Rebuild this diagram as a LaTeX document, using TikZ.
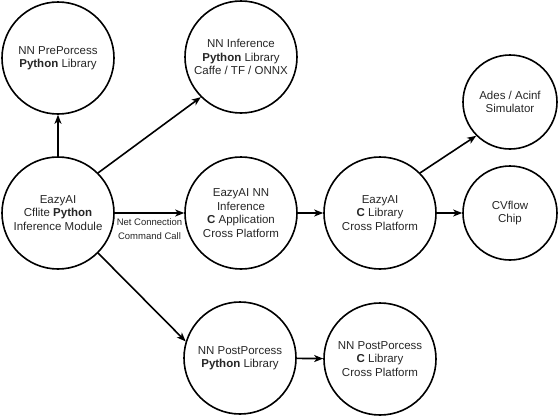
\documentclass[tikz,border=0pt]{standalone}
\usepackage{fontspec}
\setmainfont{Liberation Sans}
\usetikzlibrary{arrows.meta}

\begin{document}
\begin{tikzpicture}[x=1pt, y=-1pt, line width=1.6pt,
    >={Stealth[length=9pt, width=7pt, inset=2.5pt]},
    big/.style={circle, draw, inner sep=0pt, minimum size=112pt, align=center,
      font=\fontsize{11.5}{13.5}\selectfont, text=black!85},
    small/.style={big, minimum size=94pt},
    lbl/.style={font=\fontsize{9.5}{14}\selectfont, align=center, text=black!85}]
  \useasboundingbox (0, 0) rectangle (560, 418);
  \node [big] (pre) at (58, 58) {NN PrePorcess\\\textbf{Python} Library};
  \node [big] (infpy) at (241, 57) {NN Inference\\\textbf{Python} Library\\Caffe / TF / ONNX};
  \node [big] (cflite) at (58, 213) {EazyAI\\Cflite \textbf{Python}\\Inference Module};
  \node [big] (infc) at (241, 213) {EazyAI NN\\Inference\\\textbf{C} Application\\Cross Platform};
  \node [big] (clib) at (380, 213) {EazyAI\\\textbf{C} Library\\Cross Platform};
  \node [small] (ades) at (510, 102) {Ades / Acinf\\Simulator};
  \node [small] (cvflow) at (510, 213) {CVflow\\Chip};
  \node [big] (postpy) at (240, 358) {NN PostPorcess\\\textbf{Python} Library};
  \node [big] (postc) at (380, 359) {NN PostPorcess\\\textbf{C} Library\\Cross Platform};
  \draw [->] (cflite) -- (pre);
  \draw [->] (cflite.45) -- (infpy.225);
  \draw [->] (cflite) -- node [lbl, below=1pt] {Net Connection\\Command Call} (infc);
  \draw [->] (cflite.-45) -- (postpy.163);
  \foreach \A/\B in {infc/clib, clib/cvflow, postpy/postc} {
    \draw [->] (\A) -- (\B);
  }
  \draw [->] (clib.45) -- (ades.225);
\end{tikzpicture}
\end{document}
